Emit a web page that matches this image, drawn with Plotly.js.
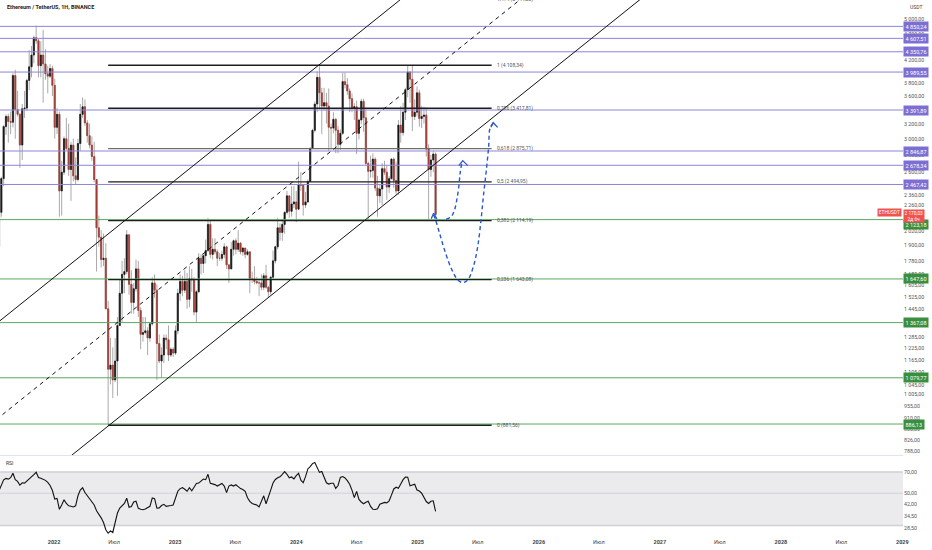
<!DOCTYPE html>
<html><head><meta charset="utf-8">
<script src="https://cdn.plot.ly/plotly-3.0.1.min.js"></script>
<style>html,body{margin:0;padding:0;background:#fff;}#chart{width:932px;height:550px;}</style>
</head><body><div id="chart"></div>
<script>
// ---- data (weekly ETH/USDT candles) ----
const firstWeek = '2021-07-19';
const opens = [1895,2190,2530,3160,3300,3230,3220,3930,3400,3330,2920,3410,3420,3850,4080,4290,4620,4560,4100,4290,4130,3960,3920,4050,
3770,3150,3330,2400,2600,3000,2880,2630,2920,2560,2520,2940,3330,3440,3210,3040,2920,2780,2520,2050,1970,1790,1800,1450,1120,1140,1070,1160,1350,1550,1680,1700,1990,1610,1490,1580,1720,1440,1300,1310,1320,1280,1360,1620,1570,1250,1160,1190,1280,1270,1190,1220,
1200,1320,1550,1630,1570,1630,1510,1650,1640,1430,1560,1800,1760,1820,1860,2080,1830,1870,1850,1800,1800,1830,1890,1750,1720,1870,1940,1870,1920,1850,1880,1830,1850,1650,1650,1630,1620,1620,1590,1670,1590,1560,1660,1780,1890,2050,2010,2080,2190,2350,2200,2270,
2290,2220,2470,2460,2260,2290,2500,2880,3110,3480,3900,3650,3450,3500,3450,3150,3140,3260,3110,2930,3070,3830,3780,3680,3560,3420,3440,3070,3250,3520,3280,2700,2610,2620,2750,2430,2350,2420,2640,2600,2440,2530,2750,2510,2400,3180,3080,3360,3700,3990,3870,3300,3360,
3650,3270,3300,3320,2870,2630,2740,2810];
const highs = [2200,2550,3180,3330,3340,3370,3970,4030,3680,3350,3480,3680,3880,4380,4460,4660,4868,4600,4550,4780,4400,4100,4130,4100,
3880,3420,3370,2730,3030,3280,3200,2960,3000,2770,3000,3480,3580,3550,3250,3200,3030,2960,2520,2160,2030,2000,1920,1500,1280,1230,1280,1400,1640,1780,1800,2030,1990,1710,1620,1790,1780,1460,1400,1400,1340,1370,1660,1680,1610,1300,1230,1300,1300,1350,1230,1230,
1350,1580,1680,1670,1710,1690,1740,1720,1660,1570,1840,1830,1830,1950,2140,2110,1960,1960,1870,1840,1860,1920,1900,1750,1930,1950,1960,2030,1930,1890,1880,1870,1850,1700,1740,1660,1650,1680,1690,1750,1600,1670,1860,1900,2140,2090,2130,2200,2400,2350,2450,2450,
2400,2720,2600,2470,2390,2520,2890,3130,3520,4000,4090,3730,3730,3650,3720,3200,3360,3280,3170,3120,3980,3980,3890,3720,3640,3490,3530,3270,3560,3560,3400,2720,2790,2820,2770,2560,2460,2700,2730,2680,2560,2760,2770,2720,3250,3450,3500,3730,4110,4000,4100,3550,3750,
3700,3450,3440,3430,2930,2800,2850,2830];
const lows = [1718,2150,2450,3050,2950,3060,3150,3000,3300,2650,2740,3280,3380,3690,3900,4140,4500,3900,3900,3500,3860,3640,3890,3600,
3000,3060,2150,2160,2570,2860,2560,2300,2500,2470,2500,2850,3280,3170,2950,2880,2730,2490,1700,1890,1730,1740,1450,880,1050,990,1060,1000,1350,1370,1550,1680,1540,1420,1420,1560,1400,1220,1260,1300,1190,1260,1350,1520,1070,1150,1080,1150,1220,1160,1180,1180,
1190,1300,1500,1530,1550,1450,1460,1560,1410,1370,1550,1680,1690,1760,1850,1800,1790,1830,1740,1780,1780,1800,1720,1620,1720,1820,1830,1850,1830,1820,1800,1820,1550,1620,1610,1610,1530,1570,1570,1580,1520,1540,1650,1760,1870,1940,1940,2000,2170,2140,2150,2230,
2100,2220,2400,2160,2230,2280,2500,2870,3080,3360,3400,3060,3380,3200,2850,2870,3070,2820,2820,2860,3050,3720,3620,3360,3360,3250,2810,2990,3190,3090,2680,2110,2540,2540,2400,2150,2280,2260,2570,2310,2380,2520,2430,2360,2360,2950,3040,3250,3580,3500,3100,3250,3300,
3160,3140,3200,2780,2120,2550,2600,2125];
const closes = [2190,2530,3160,3300,3230,3220,3930,3400,3330,2920,3410,3420,3850,4080,4290,4620,4560,4100,4290,4130,3960,3920,4050,3770,
3150,3330,2400,2600,3000,2880,2630,2920,2560,2520,2940,3330,3440,3210,3040,2920,2780,2520,2050,1970,1790,1800,1450,1120,1140,1070,1160,1350,1550,1680,1700,1990,1610,1490,1580,1720,1440,1300,1310,1320,1280,1360,1620,1570,1250,1160,1190,1280,1270,1190,1220,1200,
1320,1550,1630,1570,1630,1510,1650,1640,1430,1560,1800,1760,1820,1860,2080,1830,1870,1850,1800,1800,1830,1890,1750,1720,1870,1940,1870,1920,1850,1880,1830,1850,1650,1650,1630,1620,1620,1590,1670,1590,1560,1660,1780,1890,2050,2010,2080,2190,2350,2200,2270,2290,
2220,2470,2460,2260,2290,2500,2880,3110,3480,3900,3650,3450,3500,3450,3150,3140,3260,3110,2930,3070,3830,3780,3680,3560,3420,3440,3070,3250,3520,3280,2700,2610,2620,2750,2430,2350,2420,2640,2600,2440,2530,2750,2510,2400,3180,3080,3360,3700,3990,3870,3300,3360,3650,
3270,3300,3320,2870,2630,2740,2810,2170.03];
const rsi = [52,57,61.8,63.2,62.5,64,68.6,62,60.3,56.8,59,58.7,60.5,63,65,67.2,69.7,64.2,63.5,62.5,61.3,59.3,56.5,52.2,
45.5,46,38.7,41.5,45,42.5,40.9,40.6,40.2,40.9,48,52.5,54.5,50.5,48,46.5,44,41.5,37.8,35.8,33.8,31.4,28,26.5,27.5,26.8,31.5,36.5,39.5,41.1,42.5,46.2,40,40.5,43.5,44,39.3,38.7,38.5,38.9,39.6,40.6,46.3,45.8,39.5,39.6,41.1,41.9,40.6,41.1,41.1,41.5,
46.2,51.6,53.8,54.6,53.2,51.6,54.5,52,55,58.3,58.7,60.2,62.6,62,67.5,58.5,58.2,57.3,56,57,58.4,56,50.5,56,57,56,57.2,55.5,53.8,53,51.5,46.5,43.9,42.5,42,41.4,40.2,44,48,42.3,46.5,52.5,58.8,62.2,63.9,64.9,67.5,70.5,67.5,63.8,64.7,62.8,
66,68.5,61.5,59,65,73.5,76.2,80,81.5,74.2,69.6,70.6,65,59,57.8,58.6,58.5,54,56.5,64.2,65.1,63.7,61,57.7,52.5,46.6,51.5,45.3,43.5,42.3,43.3,44,40.5,38.8,38.6,39,42,42.7,43.2,42.9,44.3,48.5,53.5,55,54,57.8,62,64.6,64.5,56.2,56.8,57.6,52.6,
51.8,50,46.2,43.8,42.5,44,44.3,37.4];

const purpleLevels = [4850.24, 4607.51, 4350.76, 3989.55, 3391.89, 2846.87, 2678.34, 2467.42];
const greenLevels = [2123.18, 1647.60, 1367.08, 1079.77, 886.13];
const fibRatios = ['0', '0,236', '0,382', '0,5', '0,618', '0,786', '1'];
const fibPrices = [881.56, 1643.08, 2114.19, 2494.95, 2875.71, 3417.81, 4108.34];
const fibTopRatio = '1,414', fibTopPrice = 5444.23;
const fibStart = '2022-06-13', fibEnd = '2025-08-12', fibLabelDate = '2025-08-22';

const channelUpperDates = ['2021-06-22', '2024-12-08'], channelUpperPrices = [1332, 5614];
const channelLowerDates = ['2022-01-19', '2026-11-30'], channelLowerPrices = [745, 5614];
const channelMidDates = ['2021-06-22', '2025-12-04'], channelMidPrices = [884, 5614];

const bigPathDates = ['2025-08-17','2025-08-07','2025-08-03','2025-07-26','2025-07-18','2025-07-11','2025-07-01','2025-06-18','2025-06-01','2025-05-17','2025-05-02','2025-04-12','2025-03-23','2025-03-08','2025-02-24','2025-02-18'];
const bigPathPrices = [3213,3138,2900,2589,2342,2120,1892,1737,1641,1622,1641,1725,1865,2003,2120,2165];
const smallPathDates = ['2025-03-28','2025-04-12','2025-04-22','2025-04-29','2025-05-05','2025-05-09','2025-05-14'];
const smallPathPrices = [2127,2150,2212,2310,2445,2589,2702];
const headTopDates = ['2025-08-10','2025-08-17','2025-08-30'], headTopPrices = [3150,3213,3150];
const headSmallDates = ['2025-05-05','2025-05-17','2025-06-01'], headSmallPrices = [2674,2732,2674];
const headStartDates = ['2025-02-11','2025-02-18','2025-02-28'], headStartPrices = [2130,2182,2130];

const lastPrice = 2170.03;
const priceTicks = [5000,4700,4400,4200,3800,3600,3200,3000,2800,2600,2360,2260,2020,1900,1780,1680,1605,1525,1445,1285,1225,1165,1105,1045,1005,955,910,866,826,788];
const rsiTicks = [70, 50, 42, 34.5, 28.5];
const xTickVals = ['2022-01-01','2022-07-01','2023-01-01','2023-07-01','2024-01-01','2024-07-01','2025-01-01','2025-07-01','2026-01-01','2026-07-01','2027-01-01','2027-07-01','2028-01-01','2028-07-01','2029-01-01'];
const xTickText = ['<b>2022</b>','Июл','<b>2023</b>','Июл','<b>2024</b>','Июл','<b>2025</b>','Июл','<b>2026</b>','Июл','<b>2027</b>','Июл','<b>2028</b>','Июл','<b>2029</b>'];
const xRange = ['2021-07-22', '2029-01-03'];

// ---- helpers ----
const ru = v => { const p = v.toFixed(2).split('.'); return p[0].replace(/\B(?=(\d{3})+(?!\d))/g, ' ') + ',' + p[1]; };
const t0 = Date.parse(firstWeek + 'T00:00:00Z');
const weekDates = opens.map((_, i) => new Date(t0 + i * 7 * 86400000).toISOString().slice(0, 10));
const bodyHigh = opens.map((o, i) => Math.max(o, closes[i]));
const bodyLow = opens.map((o, i) => Math.min(o, closes[i]));
function hLines(levels, x0, x1) {
  const x = [], y = [];
  levels.forEach(v => { x.push(x0, x1, null); y.push(v, v, null); });
  return {x, y};
}

const traces = [];
// candles: wicks then bodies
traces.push({type:'candlestick', x:weekDates, open:opens, high:highs, low:lows, close:closes,
  increasing:{line:{color:'#a9a9a9', width:1}, fillcolor:'#a9a9a9'},
  decreasing:{line:{color:'#a9a9a9', width:1}, fillcolor:'#a9a9a9'},
  whiskerwidth:0, hoverinfo:'skip', xaxis:'x', yaxis:'y'});
traces.push({type:'candlestick', x:weekDates, open:opens, high:bodyHigh, low:bodyLow, close:closes,
  increasing:{line:{color:'#141414', width:0.6}, fillcolor:'#141414'},
  decreasing:{line:{color:'#a63b33', width:0.6}, fillcolor:'#a63b33'},
  whiskerwidth:0, hoverinfo:'skip', xaxis:'x', yaxis:'y'});

// horizontal levels
const pl = hLines(purpleLevels, xRange[0], xRange[1]);
traces.push({type:'scatter', mode:'lines', x:pl.x, y:pl.y, line:{color:'#8d85d6', width:1}, hoverinfo:'skip', yaxis:'y'});
const gl = hLines(greenLevels, xRange[0], xRange[1]);
traces.push({type:'scatter', mode:'lines', x:gl.x, y:gl.y, line:{color:'#5aa85e', width:1}, hoverinfo:'skip', yaxis:'y'});

// fib lines
const fibDark = fibPrices.filter((_, i) => fibRatios[i] !== '0,618');
const fibGray = fibPrices.filter((_, i) => fibRatios[i] === '0,618');
const fd = hLines(fibDark, fibStart, fibEnd);
traces.push({type:'scatter', mode:'lines', x:fd.x, y:fd.y, line:{color:'#1e1e1e', width:1.4}, hoverinfo:'skip', yaxis:'y'});
const fg = hLines(fibGray, fibStart, fibEnd);
traces.push({type:'scatter', mode:'lines', x:fg.x, y:fg.y, line:{color:'#6f6f6f', width:1.4}, hoverinfo:'skip', yaxis:'y'});

// channel
traces.push({type:'scatter', mode:'lines', x:channelUpperDates, y:channelUpperPrices, line:{color:'#111', width:1}, hoverinfo:'skip', yaxis:'y'});
traces.push({type:'scatter', mode:'lines', x:channelLowerDates, y:channelLowerPrices, line:{color:'#111', width:1}, hoverinfo:'skip', yaxis:'y'});
traces.push({type:'scatter', mode:'lines', x:channelMidDates, y:channelMidPrices, line:{color:'#111', width:1, dash:'4px,4px'}, hoverinfo:'skip', yaxis:'y'});

// projected path (blue dashed)
const blue = '#2a56d0';
traces.push({type:'scatter', mode:'lines', x:bigPathDates, y:bigPathPrices, line:{color:blue, width:1.4, dash:'4px,3px', shape:'spline'}, hoverinfo:'skip', yaxis:'y'});
traces.push({type:'scatter', mode:'lines', x:smallPathDates, y:smallPathPrices, line:{color:blue, width:1.4, dash:'4px,3px', shape:'spline'}, hoverinfo:'skip', yaxis:'y'});
[[headTopDates, headTopPrices], [headSmallDates, headSmallPrices], [headStartDates, headStartPrices]].forEach(h => {
  traces.push({type:'scatter', mode:'lines', x:h[0], y:h[1], line:{color:blue, width:1.3}, hoverinfo:'skip', yaxis:'y'});
});

// RSI pane
traces.push({type:'scatter', mode:'lines', x:xRange, y:[30, 30], line:{color:'#cfcfd5', width:1.5}, hoverinfo:'skip', yaxis:'y2'});
traces.push({type:'scatter', mode:'lines', x:xRange, y:[70, 70], fill:'tonexty', fillcolor:'#ebebee', line:{color:'#cfcfd5', width:1.5}, hoverinfo:'skip', yaxis:'y2'});
traces.push({type:'scatter', mode:'lines', x:xRange, y:[50, 50], line:{color:'#d3d3d8', width:1}, hoverinfo:'skip', yaxis:'y2'});
traces.push({type:'scatter', mode:'lines', x:weekDates, y:rsi, line:{color:'#111', width:1.1}, hoverinfo:'skip', yaxis:'y2'});

// annotations
const ann = [];
const boxFont = {size:5.5, color:'#fff', family:'Roboto, sans-serif'};
purpleLevels.forEach(v => ann.push({xref:'paper', x:1, xanchor:'left', yref:'y', y:Math.log10(v), yanchor:'middle',
  text:ru(v), showarrow:false, bgcolor:'#7c6ed3', font:boxFont, borderpad:1.5}));
greenLevels.forEach((v, i) => ann.push({xref:'paper', x:1, xanchor:'left', yref:'y', y:Math.log10(v), yanchor:'middle',
  yshift: i === 0 ? -5 : 0, text:ru(v), showarrow:false, bgcolor:'#3a8f3e', font:boxFont, borderpad:1.5}));
ann.push({xref:'paper', x:1, xanchor:'left', yref:'y', y:Math.log10(lastPrice), yanchor:'middle', yshift:-1,
  text:ru(lastPrice) + '<br>2д 6ч', showarrow:false, bgcolor:'#ef5350', font:{size:4.8, color:'#fff', family:'Roboto, sans-serif'}, borderpad:0.5});
ann.push({xref:'paper', x:1, xanchor:'right', xshift:-1, yref:'y', y:Math.log10(lastPrice), yanchor:'middle', yshift:2,
  text:'ETHUSDT', showarrow:false, bgcolor:'#ef5350', font:{size:4.8, color:'#fff', family:'Roboto, sans-serif'}, borderpad:0.8});
fibPrices.forEach((v, i) => ann.push({xref:'x', x:fibLabelDate, xanchor:'left', yref:'y', y:Math.log10(v), yanchor:'middle',
  text:fibRatios[i] + ' (' + ru(v) + ')', showarrow:false, font:{size:5, color:'#555', family:'Roboto, sans-serif'}}));
ann.push({xref:'x', x:fibLabelDate, xanchor:'left', yref:'paper', y:1, yanchor:'middle', yshift:1,
  text:fibTopRatio + ' (' + ru(fibTopPrice) + ')', showarrow:false, font:{size:5, color:'#555', family:'Roboto, sans-serif'}});
ann.push({xref:'paper', x:0, xanchor:'left', xshift:5, yref:'paper', y:1, yanchor:'top', yshift:-2,
  text:'Ethereum / TetherUS, 1Н, BINANCE', showarrow:false, font:{size:5.5, color:'#222', family:'Roboto, sans-serif', weight:700}});
ann.push({xref:'paper', x:1, xanchor:'left', xshift:5, yref:'paper', y:1, yanchor:'top', yshift:-2,
  text:'USDT', showarrow:false, font:{size:5, color:'#444', family:'Roboto, sans-serif'}});
ann.push({xref:'paper', x:0, xanchor:'left', xshift:4, yref:'paper', y:0.1508, yanchor:'top', yshift:-2,
  text:'RSI', showarrow:false, font:{size:5, color:'#333', family:'Roboto, sans-serif'}});

const layout = {
  width:932, height:550, margin:{l:0, r:29, t:0, b:13},
  paper_bgcolor:'#ffffff', plot_bgcolor:'#ffffff', showlegend:false,
  font:{family:'Roboto, sans-serif'},
  xaxis:{type:'date', range:xRange, domain:[0, 1], anchor:'y2', showgrid:false, zeroline:false, showline:false,
    ticks:'', tickvals:xTickVals, ticktext:xTickText, tickfont:{size:5.5, color:'#444'}, rangeslider:{visible:false}, fixedrange:true},
  yaxis:{type:'log', range:[2.890, 3.7347], domain:[0.1527, 1], anchor:'x', side:'right', showgrid:false, zeroline:false,
    showline:false, ticks:'', tickvals:priceTicks, ticktext:priceTicks.map(ru), tickfont:{size:5.3, color:'#555'}, fixedrange:true},
  yaxis2:{type:'log', range:[1.397, 1.9554], domain:[0, 0.1508], anchor:'x', side:'right', showgrid:false, zeroline:false,
    showline:false, ticks:'', tickvals:rsiTicks, ticktext:rsiTicks.map(ru), tickfont:{size:5.3, color:'#555'}, fixedrange:true},
  shapes:[{type:'line', xref:'paper', yref:'paper', x0:0, x1:1, y0:0.1518, y1:0.1518, line:{color:'#e0e3eb', width:1}}],
  annotations:ann
};

Plotly.newPlot('chart', traces, layout, {displayModeBar:false, staticPlot:true});
</script>
</body></html>
